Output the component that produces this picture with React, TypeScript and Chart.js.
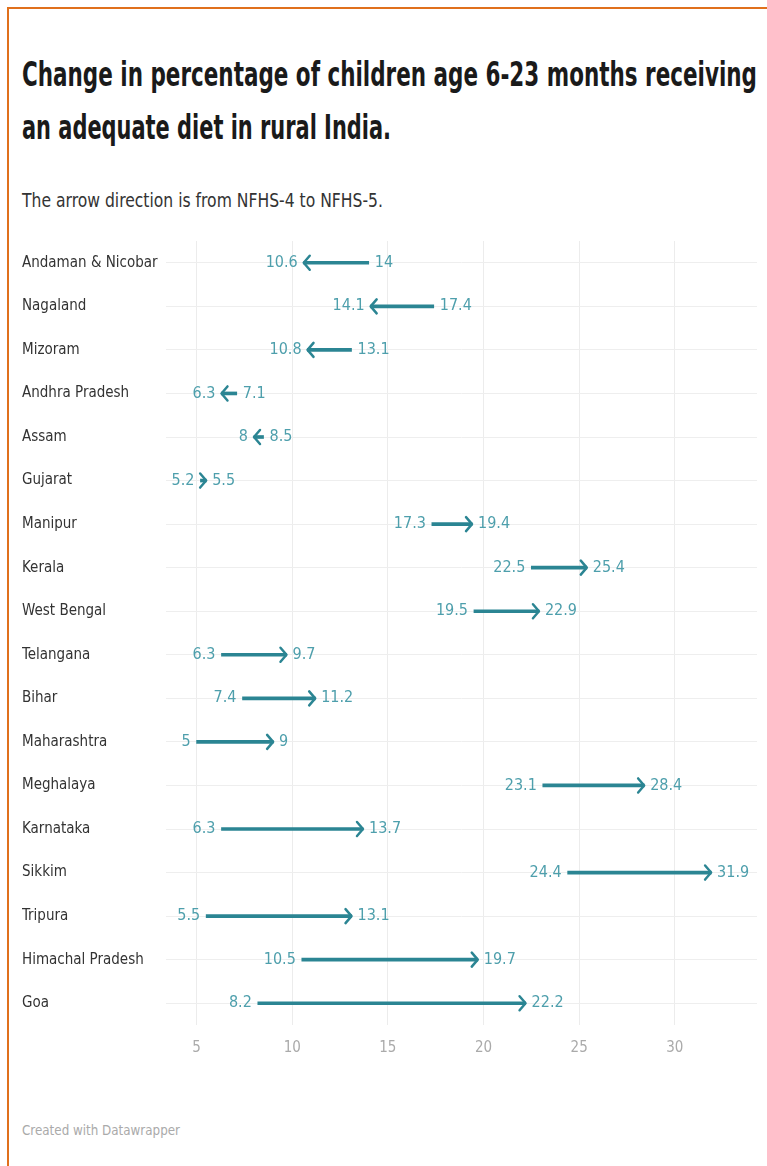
import React, { useEffect, useLayoutEffect, useRef } from "react";
import { Chart, registerables } from "chart.js";

Chart.register(...registerables);

const categories = [
  "Andaman & Nicobar",
  "Nagaland",
  "Mizoram",
  "Andhra Pradesh",
  "Assam",
  "Gujarat",
  "Manipur",
  "Kerala",
  "West Bengal",
  "Telangana",
  "Bihar",
  "Maharashtra",
  "Meghalaya",
  "Karnataka",
  "Sikkim",
  "Tripura",
  "Himachal Pradesh",
  "Goa",
];
const nfhs4 = [14, 17.4, 13.1, 7.1, 8.5, 5.2, 17.3, 22.5, 19.5, 6.3, 7.4, 5, 23.1, 6.3, 24.4, 5.5, 10.5, 8.2];
const nfhs5 = [10.6, 14.1, 10.8, 6.3, 8, 5.5, 19.4, 25.4, 22.9, 9.7, 11.2, 9, 28.4, 13.7, 31.9, 13.1, 19.7, 22.2];
const xTicks = [5, 10, 15, 20, 25, 30];

const TITLE_LINES = [
  "Change in percentage of children age 6-23 months receiving",
  "an adequate diet in rural India.",
];
const SUBTITLE = "The arrow direction is from NFHS-4 to NFHS-5.";
const FOOTER = "Created with Datawrapper";

const NARROW = "'Liberation Sans Narrow', 'Arial Narrow', 'DejaVu Sans Condensed', 'Roboto Condensed', sans-serif";
const ARROW = "#2b8593";
const LABEL = "#4e9fac";

const fmt = (v: number) => String(v);

const arrowPlugin = {
  id: "arrowHeads",
  afterDatasetsDraw(chart: any) {
    const { ctx, scales } = chart;
    const x = scales.x;
    const y = scales.y;
    ctx.save();
    categories.forEach((_, i) => {
      const a = nfhs4[i];
      const b = nfhs5[i];
      const xa = x.getPixelForValue(a);
      const xb = x.getPixelForValue(b);
      const yy = y.getPixelForValue(i);
      const dir = xb >= xa ? 1 : -1;
      ctx.strokeStyle = ARROW;
      ctx.lineWidth = 2.5;
      ctx.lineCap = "round";
      ctx.lineJoin = "round";
      ctx.beginPath();
      ctx.moveTo(xb - dir * 6, yy - 7);
      ctx.lineTo(xb, yy);
      ctx.lineTo(xb - dir * 6, yy + 7);
      ctx.stroke();

      const lo = Math.min(a, b);
      const hi = Math.max(a, b);
      ctx.fillStyle = LABEL;
      ctx.font = `16px ${NARROW}`;
      ctx.textBaseline = "middle";
      ctx.textAlign = "right";
      ctx.fillText(fmt(lo), x.getPixelForValue(lo) - 6, yy);
      ctx.textAlign = "left";
      ctx.fillText(fmt(hi), x.getPixelForValue(hi) + 6, yy);
    });
    ctx.restore();
  },
};

function ArrowChart() {
  const ref = useRef<HTMLCanvasElement | null>(null);
  useEffect(() => {
    if (!ref.current) return;
    const chart = new Chart(ref.current, {
      type: "bar",
      data: {
        labels: categories,
        datasets: [
          {
            data: categories.map((_, i) => [nfhs4[i], nfhs5[i]]) as any,
            backgroundColor: ARROW,
            borderWidth: 0,
            barThickness: 3,
            borderSkipped: false,
          },
        ],
      },
      options: {
        animation: false,
        responsive: false,
        indexAxis: "y",
        layout: { padding: { left: 22, right: 10, top: 11, bottom: 0 } },
        plugins: { legend: { display: false }, tooltip: { enabled: false } },
        scales: {
          x: {
            type: "linear",
            min: 3.4,
            max: 34.3,
            afterBuildTicks: (s: any) => {
              s.ticks = xTicks.map((v) => ({ value: v }));
            },
            afterFit: (s: any) => {
              s.height = 45;
            },
            grid: { color: "#ececec", drawTicks: false },
            border: { display: false },
            ticks: {
              padding: 14,
              color: "#aaaaaa",
              font: { family: NARROW, size: 15 },
            },
          },
          y: {
            type: "category",
            afterFit: (s: any) => {
              s.width = 144;
            },
            grid: { color: "#eeeeee", drawTicks: false, offset: false },
            border: { display: false },
            ticks: {
              crossAlign: "far",
              padding: 0,
              color: "#333333",
              font: { family: NARROW, size: 15 },
            },
          },
        },
      },
      plugins: [arrowPlugin],
    });
    return () => chart.destroy();
  }, []);
  return (
    <canvas
      ref={ref}
      width={767}
      height={840}
      style={{ position: "absolute", left: 0, top: 230, width: 767, height: 840 }}
    />
  );
}

function FitLine({ text, width, style }: { text: string; width: number; style: React.CSSProperties }) {
  const ref = useRef<HTMLSpanElement | null>(null);
  useLayoutEffect(() => {
    const el = ref.current;
    if (!el) return;
    el.style.transform = "none";
    const w = el.getBoundingClientRect().width;
    if (w > 0) el.style.transform = `scaleX(${width / w})`;
  }, [text, width]);
  return (
    <span
      ref={ref}
      style={{ display: "inline-block", whiteSpace: "nowrap", transformOrigin: "left center", ...style }}
    >
      {text}
    </span>
  );
}

export default function App() {
  const titleStyle: React.CSSProperties = {
    fontFamily: NARROW,
    fontWeight: 700,
    fontSize: 33,
    lineHeight: "53px",
    color: "#1a1a1a",
  };
  return (
    <div style={{ position: "absolute", left: 0, top: 0, width: 767, height: 1166, background: "#fff", overflow: "hidden" }}>
      <div
        style={{
          position: "absolute",
          left: 7,
          top: 7,
          width: 780,
          height: 1200,
          borderTop: "2px solid #e0701c",
          borderLeft: "2px solid #e0701c",
        }}
      />
      <div style={{ position: "absolute", left: 22, top: 48 }}>
        <div style={{ height: 53 }}>
          <FitLine text={TITLE_LINES[0]} width={735} style={titleStyle} />
        </div>
        <div style={{ height: 53 }}>
          <FitLine text={TITLE_LINES[1]} width={369} style={titleStyle} />
        </div>
      </div>
      <div style={{ position: "absolute", left: 22, top: 188 }}>
        <FitLine
          text={SUBTITLE}
          width={361}
          style={{ fontFamily: NARROW, fontSize: 19, lineHeight: "24px", color: "#333" }}
        />
      </div>
      <ArrowChart />
      <div style={{ position: "absolute", left: 22, top: 1120 }}>
        <FitLine
          text={FOOTER}
          width={158}
          style={{ fontFamily: NARROW, fontSize: 14, lineHeight: "20px", color: "#aaa" }}
        />
      </div>
    </div>
  );
}
